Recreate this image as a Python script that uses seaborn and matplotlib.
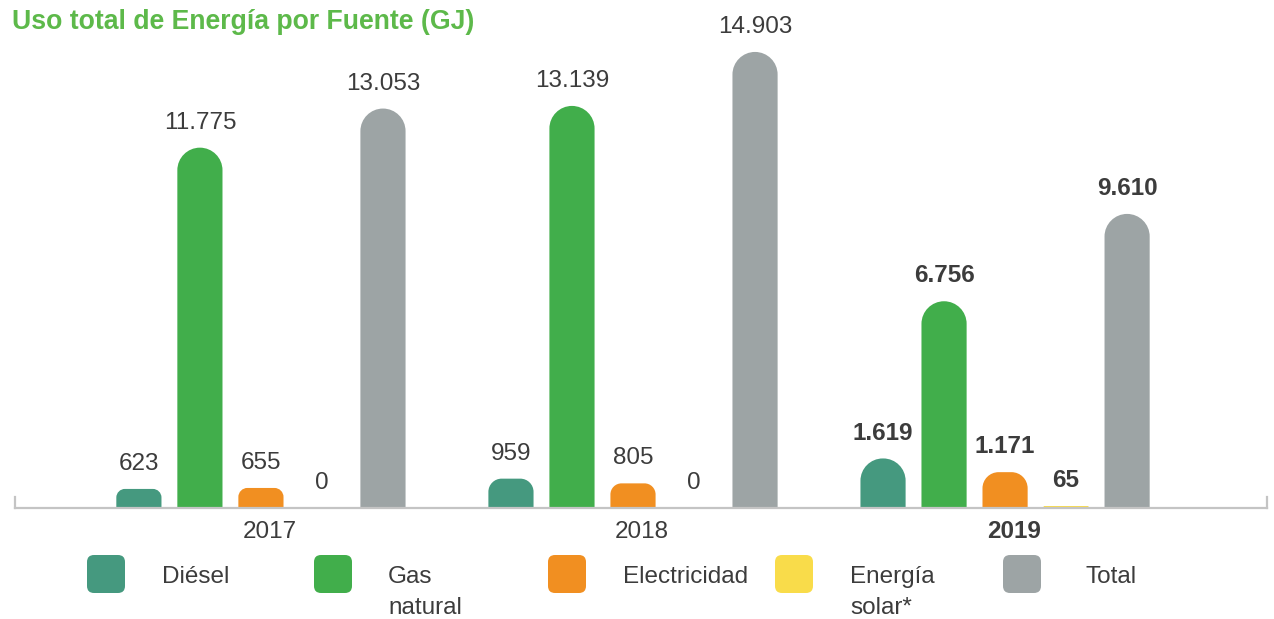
import matplotlib
matplotlib.use('Agg')
import numpy as np
import pandas as pd
import matplotlib.pyplot as plt
import seaborn as sns
from matplotlib.path import Path
from matplotlib.patches import PathPatch, FancyBboxPatch
from matplotlib.transforms import ScaledTranslation

# datos
years = ['2017', '2018', '2019']
sources = ['Diésel', 'Gas natural', 'Electricidad', 'Energía solar*', 'Total']
legend_labels = ['Diésel', 'Gas\nnatural', 'Electricidad', 'Energía\nsolar*', 'Total']
diesel = [623, 959, 1619]
gas_natural = [11775, 13139, 6756]
electricidad = [655, 805, 1171]
energia_solar = [0, 0, 65]
total = [13053, 14903, 9610]
colors = ['#45997f', '#41ae4b', '#f18f21', '#f9dc4a', '#9da4a5']

TEXT = '#3c3c3c'
W, H, DPI = 1274, 619, 100

rows = []
for name, vals in zip(sources, [diesel, gas_natural, electricidad, energia_solar, total]):
    for y, v in zip(years, vals):
        rows.append({'year': y, 'source': name, 'value': v})
df = pd.DataFrame(rows)

sns.set_style('white')
plt.rcParams['font.family'] = ['Liberation Sans', 'DejaVu Sans']

fig = plt.figure(figsize=(W / DPI, H / DPI), dpi=DPI)
ax_top_px, ax_bot_px, ax_l_px, ax_r_px = 30, 508, 15, 1267
ax = fig.add_axes([ax_l_px / W, (H - ax_bot_px) / H,
                   (ax_r_px - ax_l_px) / W, (ax_bot_px - ax_top_px) / H])

sns.barplot(data=df, x='year', y='value', hue='source', order=years,
            hue_order=sources, palette=colors, width=0.82, gap=0.26,
            saturation=1, legend=False, ax=ax, linewidth=0)

ymax = 15620
ax.set_xlim(-0.661, 2.704)
ax.set_ylim(0, ymax)

# etiquetas de valores
for cont, name in zip(ax.containers, sources):
    vals = df[df['source'] == name]['value'].tolist()
    labels = [f"{v:,}".replace(',', '.') for v in vals]
    texts = ax.bar_label(cont, labels=labels, padding=10, fontsize=17.5, color=TEXT)
    texts[2].set_fontweight('bold')

# barras con la parte superior redondeada
sx = (ax_r_px - ax_l_px) / (2.704 + 0.661)
sy = (ax_bot_px - ax_top_px) / ymax
k = 0.5523
for cont in ax.containers:
    for p in cont.patches:
        h = p.get_height()
        if h <= 0:
            continue
        x0 = p.get_x()
        w = p.get_width()
        x1 = x0 + w
        r_px = min(w * sx / 2, h * sy * 0.45)
        rx, ry = r_px / sx, r_px / sy
        verts = [(x0, 0), (x0, h - ry),
                 (x0, h - ry + k * ry), (x0 + rx - k * rx, h), (x0 + rx, h),
                 (x1 - rx, h),
                 (x1 - rx + k * rx, h), (x1, h - ry + k * ry), (x1, h - ry),
                 (x1, 0), (x0, 0)]
        codes = [Path.MOVETO, Path.LINETO,
                 Path.CURVE4, Path.CURVE4, Path.CURVE4,
                 Path.LINETO,
                 Path.CURVE4, Path.CURVE4, Path.CURVE4,
                 Path.LINETO, Path.CLOSEPOLY]
        ax.add_patch(PathPatch(Path(verts, codes), facecolor=p.get_facecolor(),
                               edgecolor='none', zorder=2))
        p.set_visible(False)

# ejes
ax.set_xlabel('')
ax.set_ylabel('')
ax.set_yticks([])
ax.tick_params(axis='x', length=0, pad=9, labelsize=17.5, labelcolor=TEXT)
for lab in ax.get_xticklabels():
    lab.set_transform(lab.get_transform() + ScaledTranslation(0.09, 0, fig.dpi_scale_trans))
    if lab.get_text() == '2019':
        lab.set_fontweight('bold')
ax.spines['top'].set_visible(False)
for s in ['bottom', 'left', 'right']:
    ax.spines[s].set_color('#c4c4c4')
    ax.spines[s].set_linewidth(1.6)
ax.spines['left'].set_bounds(0, 11 / sy)
ax.spines['right'].set_bounds(0, 11 / sy)

# titulo
fig.text(12 / W, 1 - 22 / H, 'Uso total de Energía por Fuente (GJ)',
         fontsize=19.2, fontweight='bold', color='#5db94a', va='center', ha='left')

# leyenda manual
box_x = [87, 314, 548, 775, 1003]
text_x = [162, 388, 623, 850, 1085]
for bx, tx, lab, c in zip(box_x, text_x, legend_labels, colors):
    fig.patches.append(FancyBboxPatch((bx, H - 593), 38, 38,
                                      boxstyle='round,pad=0,rounding_size=7',
                                      facecolor=c, edgecolor='none',
                                      transform=None, figure=fig))
    fig.text(tx / W, 1 - 566 / H, lab, fontsize=17.5, color=TEXT,
             va='top', ha='left', linespacing=1.5)

fig.savefig('out.png', dpi=DPI)
